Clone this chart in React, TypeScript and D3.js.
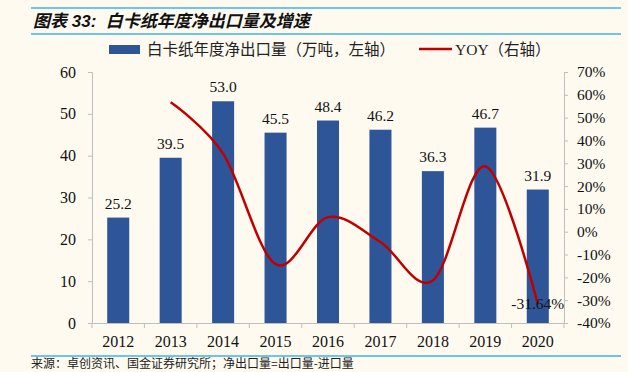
import React, { useRef, useEffect } from "react";
import * as d3 from "d3";

const years = ["2012", "2013", "2014", "2015", "2016", "2017", "2018", "2019", "2020"];
const netExport = [25.2, 39.5, 53.0, 45.5, 48.4, 46.2, 36.3, 46.7, 31.9];
const yoyYears = ["2013", "2014", "2015", "2016", "2017", "2018", "2019", "2020"];
const yoy = [56.7, 34.2, -14.2, 6.4, -4.5, -21.4, 28.7, -31.64];
const leftTicks = [0, 10, 20, 30, 40, 50, 60];
const rightTicks = [-40, -30, -20, -10, 0, 10, 20, 30, 40, 50, 60, 70];

const title = "图表 33:  白卡纸年度净出口量及增速";
const barLegend = "白卡纸年度净出口量（万吨，左轴）";
const lineLegend = "YOY（右轴）";
const source = "来源：卓创资讯、国金证券研究所；净出口量=出口量-进口量";

const W = 628;
const H = 372;
const BG = "#FEFAF0";
const BAR = "#2E5597";
const RED = "#C00000";
const AXIS = "#BFBFBF";
const RULE = "#3FB3E6";
const FONT = "'Liberation Serif', 'Noto Sans CJK SC', serif";
const CJK = "'Noto Sans CJK SC', sans-serif";

const App = () => {
  const svgRef = useRef<SVGSVGElement>(null);

  useEffect(() => {
    const svg = d3.select(svgRef.current);
    svg.selectAll("*").remove();

    const left = 92;
    const right = 564;
    const top = 72;
    const bottom = 323;

    svg.append("rect").attr("width", W).attr("height", H).attr("fill", BG);

    // header rules and title
    svg.append("line").attr("x1", 31).attr("x2", 621).attr("y1", 8).attr("y2", 8)
      .attr("stroke", RULE).attr("stroke-width", 1.5);
    svg.append("line").attr("x1", 31).attr("x2", 621).attr("y1", 34).attr("y2", 34)
      .attr("stroke", RULE).attr("stroke-width", 1.5);
    svg.append("text").attr("x", 33).attr("y", 27)
      .attr("font-family", "'Liberation Sans', 'Noto Sans CJK SC', sans-serif")
      .attr("font-size", 17).attr("font-weight", "bold").attr("font-style", "italic")
      .attr("fill", "#111").attr("xml:space", "preserve").style("white-space", "pre")
      .text(title);

    const x = d3.scaleBand().domain(years).range([left, right])
      .paddingInner(0.58).paddingOuter(0.29);
    const y = d3.scaleLinear().domain([0, 60]).range([bottom, top]);
    const y2 = d3.scaleLinear().domain([-40, 70]).range([bottom, top]);
    const cx = (d: string) => (x(d) as number) + x.bandwidth() / 2;

    // left axis
    const gl = svg.append("g").attr("transform", `translate(${left},0)`)
      .call(d3.axisLeft(y).tickValues(leftTicks).tickSize(4).tickPadding(12));
    // right axis
    const gr = svg.append("g").attr("transform", `translate(${right},0)`)
      .call(d3.axisRight(y2).tickValues(rightTicks).tickSize(4).tickPadding(9)
        .tickFormat((d) => `${d}%`));
    // bottom axis
    const gb = svg.append("g").attr("transform", `translate(0,${bottom})`)
      .call(d3.axisBottom(x).tickSize(0).tickPadding(13));
    [gl, gr, gb].forEach((g) => {
      g.select(".domain").attr("stroke", AXIS);
      g.selectAll(".tick line").attr("stroke", AXIS);
      g.selectAll("text").attr("font-family", FONT).attr("font-size", 16).attr("fill", "#111");
    });
    gr.selectAll("text").attr("font-size", 15.5);

    // category boundary ticks on x axis
    const edges = years.map((d) => (x(d) as number) - (x.step() * x.paddingInner()) / 2)
      .concat([right]);
    svg.append("g").selectAll("line").data(edges).join("line")
      .attr("x1", (d) => d).attr("x2", (d) => d)
      .attr("y1", bottom).attr("y2", bottom + 5).attr("stroke", AXIS);

    // bars
    svg.append("g").selectAll("rect").data(netExport).join("rect")
      .attr("x", (d, i) => x(years[i]) as number)
      .attr("y", (d) => y(d))
      .attr("width", x.bandwidth())
      .attr("height", (d) => y(0) - y(d))
      .attr("fill", BAR);

    svg.append("g").selectAll("text").data(netExport).join("text")
      .attr("x", (d, i) => cx(years[i]))
      .attr("y", (d) => y(d) - 9)
      .attr("text-anchor", "middle")
      .attr("font-family", FONT).attr("font-size", 15.5).attr("fill", "#111")
      .text((d) => d.toFixed(1));

    // yoy line
    const line = d3.line<number>()
      .x((d, i) => cx(yoyYears[i]))
      .y((d) => y2(d))
      .curve(d3.curveCardinal.tension(0));
    svg.append("path").datum(yoy).attr("d", line)
      .attr("fill", "none").attr("stroke", RED).attr("stroke-width", 2.5);

    const last = yoy.length - 1;
    svg.append("text")
      .attr("x", cx(yoyYears[last]))
      .attr("y", y2(yoy[last]) + 5)
      .attr("text-anchor", "middle")
      .attr("font-family", FONT).attr("font-size", 15.5).attr("fill", "#111")
      .text(`${yoy[last]}%`);

    // legend
    svg.append("rect").attr("x", 109).attr("y", 45).attr("width", 31).attr("height", 9)
      .attr("fill", BAR);
    svg.append("text").attr("x", 147).attr("y", 55)
      .attr("font-family", CJK).attr("font-size", 15.5).attr("fill", "#222").text(barLegend);
    svg.append("line").attr("x1", 419).attr("x2", 452).attr("y1", 49).attr("y2", 49)
      .attr("stroke", RED).attr("stroke-width", 2.5);
    svg.append("text").attr("x", 455).attr("y", 55)
      .attr("font-family", FONT).attr("font-size", 15.5).attr("fill", "#222").text(lineLegend);

    // footer
    svg.append("line").attr("x1", 31).attr("x2", 621).attr("y1", 356).attr("y2", 356)
      .attr("stroke", RULE).attr("stroke-width", 1.5);
    svg.append("text").attr("x", 31).attr("y", 368)
      .attr("font-family", CJK).attr("font-size", 12).attr("fill", "#222").text(source);
  }, []);

  return (
    <div style={{ position: "absolute", left: 0, top: 0 }}>
      <svg ref={svgRef} width={W} height={H} style={{ display: "block" }}></svg>
    </div>
  );
};

export default App;
